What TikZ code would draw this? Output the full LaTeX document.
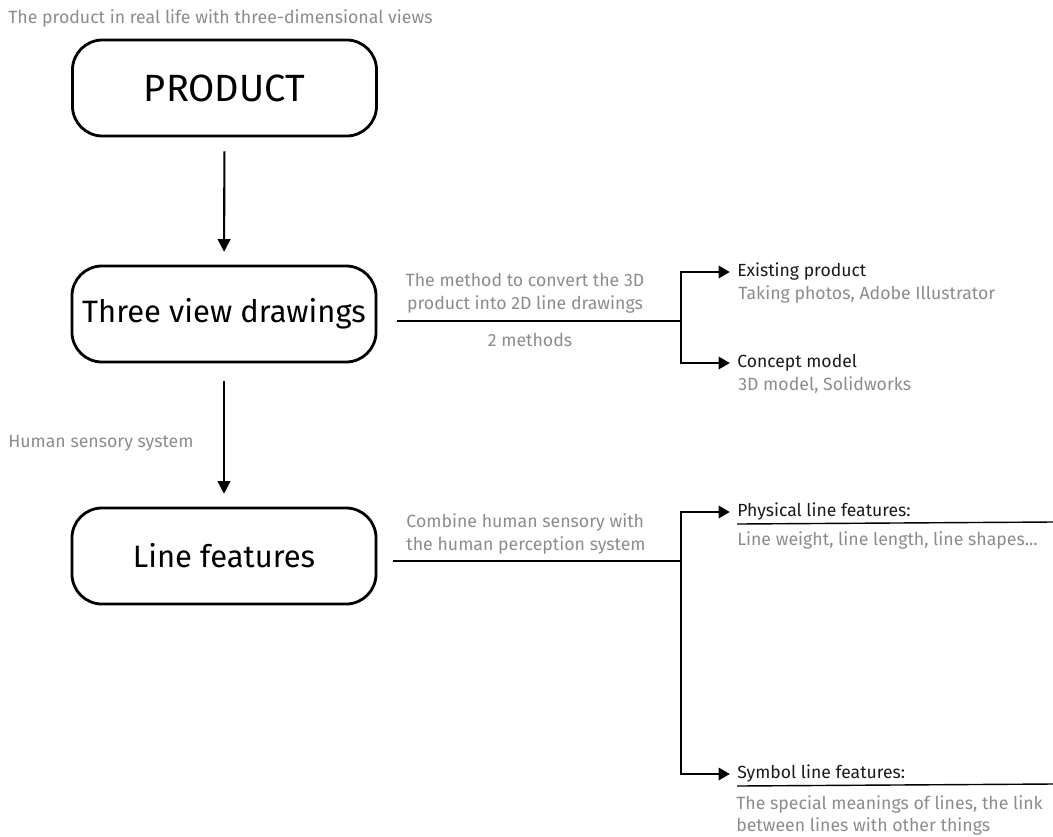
\documentclass[tikz,border=0pt]{standalone}
\usepackage{fontspec}
\setmainfont{Fira Sans}
\usetikzlibrary{arrows.meta,positioning}

\definecolor{notegray}{HTML}{8C8C8C}
\definecolor{inkdark}{HTML}{1A1A1A}

\tikzset{
  stagebox/.style={draw,line width=2pt,rounded corners=0.75cm,
    minimum width=7.6cm,minimum height=2.4cm,font=\fontsize{22}{26}\selectfont},
  note/.style={text=notegray,font=\fontsize{12.6}{16}\selectfont,inner sep=0pt},
  heading/.style={text=inkdark,font=\fontsize{12.5}{15}\selectfont,inner sep=0pt,anchor=west},
  flow/.style={line width=1.5pt,-{Triangle[width=9pt,length=9pt]}},
  branch/.style={line width=1pt,-{Triangle[width=9pt,length=8pt]},shorten >=0.18cm},
  link/.style={line width=1pt}
}

\begin{document}
\begin{tikzpicture}[x=0.025cm,y=-0.025cm]
    \useasboundingbox (0,0) rectangle (1053,836);

    % 三个阶段
    \node[stagebox,font=\fontsize{27}{30}\selectfont] (product) at (224.5,88) {PRODUCT};
    \node[stagebox] (views) at (224,314) {Three view drawings};
    \node[stagebox] (features) at (224,556) {Line features};

    % 灰色说明
    \node[note,anchor=west] (realnote) at (8,18) {The product in real life with three-dimensional views};
    \node[note,anchor=west] (sensenote) at (8,443) {Human sensory system};

    % 阶段之间的箭头
    \draw[flow,shorten <=0.35cm,shorten >=0.32cm] (product.south) -- (views.north);
    \draw[flow,shorten <=0.45cm,shorten >=0.32cm] (views.south) -- (features.north);

    % 转换方法
    \coordinate (viewstart) at (397,321);
    \coordinate (viewjoin) at (681,321);
    \draw[link] (viewstart) -- (viewjoin);
    \node[note,align=center] (methodnote) at (525,293) {The method to convert the 3D\\product into 2D line drawings};
    \node[note] (twonote) at (530,340) {2 methods};

    \node[heading] (existing) at (737,272) {Existing product};
    \node[note,anchor=west] (existingnote) at (738,294) {Taking photos, Adobe Illustrator};
    \node[heading] (concept) at (737,363) {Concept model};
    \node[note,anchor=west] (conceptnote) at (738,385) {3D model, Solidworks};
    \draw[branch] (viewjoin) |- (existing.west);
    \draw[branch] (viewjoin) |- (concept.west);

    % 线条特征
    \coordinate (featstart) at (393,561);
    \coordinate (featjoin) at (681,561);
    \draw[link] (featstart) -- (featjoin);
    \node[note,align=left] (combinenote) at (526,534) {Combine human sensory with\\the human perception system};

    \node[heading] (physical) at (737,512) {Physical line features:};
    \draw[link] (physical.south west) ++(0,3) -- (1053,522);
    \node[note,anchor=west] (physicalnote) at (737,540) {Line weight, line length, line shapes...};
    \node[heading] (symbol) at (737,774) {Symbol line features:};
    \draw[link] (symbol.south west) ++(0,3) -- (1053,784);
    \node[note,anchor=north west,align=left] (symbolnote) at (736,795) {The special meanings of lines, the link\\between lines with other things};
    \draw[branch] (featjoin) |- (physical.west);
    \draw[branch] (featjoin) |- (symbol.west);
\end{tikzpicture}
\end{document}
